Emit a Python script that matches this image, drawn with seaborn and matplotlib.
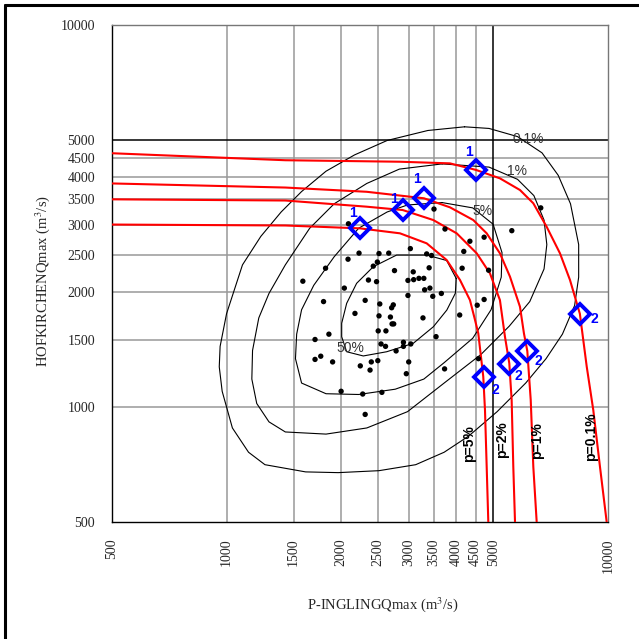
import matplotlib
matplotlib.use("Agg")
import matplotlib.pyplot as plt
from matplotlib.lines import Line2D
import pandas as pd
import seaborn as sns

# observed flood peaks (m3/s)
ingling_obs = [1585, 2087, 2225, 2082, 1818, 2036, 1796, 2171, 1855, 1706,
               1766, 1706, 1897, 1997, 2275, 2309, 2242, 2378, 2396, 2492,
               2554, 2309, 2355, 2425, 2473, 2485, 2510, 2662, 2756, 2522,
               2510, 2498, 2617, 2541, 2611, 2783, 2689, 2709, 2736, 2716,
               2743, 2909, 2909, 3041, 2989, 2989, 3033, 3086, 3094, 3194,
               3290, 3347, 3447, 3397, 3306, 3413, 3472, 3657, 3273, 3542,
               3003, 2960, 3729, 3498, 3738, 4344, 4187, 4146, 4085, 4734,
               4864, 4541, 4734, 4575, 5595, 6664]
hofk_obs = [2134, 3018, 2528, 2437, 2308, 2047, 1887, 1757, 1550, 1501,
            1357, 1331, 1311, 1098, 1080, 955, 1280, 1248, 1311, 1321,
            1091, 1901, 2149, 2337, 2128, 2396, 2522, 2528, 2275, 1860,
            1731, 1581, 1581, 1461, 1440, 1401, 1719, 1818, 1850, 1649,
            1649, 1476, 1440, 1461, 2144, 1958, 2598, 2258, 2154, 2171,
            2171, 2516, 2492, 2314, 2026, 2047, 1948, 1982, 1710, 1527,
            1311, 1221, 1257, 3298, 2924, 2716, 2554, 2308, 1740, 2783,
            2280, 1846, 1911, 1337, 2895, 3322]

# density isolines (closed)
c50_x = [4000, 3980, 3780, 3485, 3087, 2629, 2283, 2065, 2004, 2004, 2065, 2193, 2425, 2792, 3347, 3776, 4000]
c50_y = [2170, 1985, 1793, 1621, 1467, 1394, 1359, 1394, 1526, 1656, 1867, 2107, 2329, 2499, 2499, 2418, 2170]

c5_x = [3674, 4419, 4998, 5274, 5250, 4936, 4419, 3719, 3290, 2769, 2220, 1823, 1573, 1516, 1527, 1573, 1693, 1915, 2220, 2637, 2982, 3674]
c5_y = [3430, 3322, 3010, 2535, 2187, 1796, 1512, 1305, 1182, 1112, 1077, 1082, 1154, 1337, 1550, 1796, 2082, 2473, 2938, 3241, 3381, 3430]

c1_x = [3674, 4876, 5792, 6393, 6797, 6912, 6797, 6236, 5513, 4643, 3719, 2982, 2332, 1823, 1426, 1292, 1200, 1165, 1170, 1215, 1292, 1426, 1652, 1915, 2332, 2838, 3674]
c1_y = [4332, 4249, 3947, 3577, 3086, 2662, 2297, 1887, 1628, 1371, 1154, 971, 880, 848, 859, 913, 1020, 1182, 1405, 1710, 1982, 2355, 2938, 3405, 3850, 4198, 4332]

c01_x = [4207, 3371, 2637, 2166, 1823, 1573, 1391, 1230, 1101, 1000, 962, 957, 974, 1036, 1142, 1261, 1612, 1962, 2510, 3132, 3719, 4312, 5121, 6085, 6880, 7594, 8174, 8377, 8377, 7974, 7405, 6714, 5792, 4876, 4207]
c01_y = [5419, 5300, 4990, 4574, 4145, 3666, 3242, 2797, 2355, 1753, 1440, 1273, 1098, 880, 760, 705, 675, 672, 680, 705, 760, 838, 971, 1154, 1337, 1550, 1842, 2187, 2662, 3405, 4043, 4631, 5108, 5366, 5419]

# joint exceedance curves
p5_x = [500, 1426, 2237, 2849, 3347, 3776, 4093, 4346, 4481, 4570, 4710, 4759, 4808, 4855]
p5_y = [3004, 2987, 2936, 2849, 2682, 2425, 2149, 1904, 1689, 1558, 1199, 980, 696, 500]
p2_x = [500, 1426, 2330, 2896, 3483, 4012, 4527, 4904, 5208, 5369, 5511, 5590, 5646, 5704]
p2_y = [3498, 3473, 3346, 3279, 3087, 2849, 2525, 2237, 1904, 1526, 1300, 1042, 696, 500]
p1_x = [500, 1426, 2330, 3293, 3852, 4434, 4808, 5208, 5534, 5878, 6020, 6144, 6272, 6371, 6501]
p1_y = [3850, 3756, 3661, 3520, 3333, 3087, 2849, 2525, 2193, 1829, 1558, 1400, 1042, 696, 500]
p01_x = [500, 1426, 2849, 3852, 4508, 5208, 5878, 6371, 6904, 7483, 7950, 8438, 8795, 9150, 9527, 9918]
p01_y = [4620, 4429, 4389, 4346, 4177, 3970, 3700, 3415, 2965, 2525, 2149, 1753, 1274, 980, 696, 500]

# design events
design_x = [2242, 2895, 3290, 4508, 4734, 5513, 6146, 8438]
design_y = [2938, 3282, 3516, 4177, 1197, 1298, 1398, 1753]
design_lab = ["1", "1", "1", "1", "2", "2", "2", "2"]
design_off = [(-7, 15), (-9, 11), (-7, 19), (-7, 18), (11, -13), (9, -12), (11, -10), (14, -5)]

contour_lab = ["0.1%", "1%", "5%", "50%"]
contour_lab_x = [6191, 5764, 4702, 2113]
contour_lab_y = [5021, 4145, 3259, 1422]

curve_lab = ["p=5%", "p=2%", "p=1%", "p=0.1%"]
curve_lab_x = [4320, 5282, 6500, 9006]
curve_lab_y = [801, 818, 818, 835]

ticks = [500, 1000, 1500, 2000, 2500, 3000, 3500, 4000, 4500, 5000, 10000]

sns.set_style("white")
plt.rcParams["font.family"] = ["Liberation Serif", "DejaVu Serif"]
plt.rcParams["mathtext.fontset"] = "stix"

fig = plt.figure(figsize=(6.39, 6.39), dpi=100)
ax = fig.add_axes([0.1748, 0.1837, 0.7767, 0.7767])
ax.set_xscale("log")
ax.set_yscale("log")

# grid
for t in ticks[1:-1]:
    col = "black" if t == 5000 else "#999999"
    ax.axvline(t, color=col, lw=1.1, zorder=0)
    ax.axhline(t, color=col, lw=1.1, zorder=0)

for cx, cy in [(c50_x, c50_y), (c5_x, c5_y), (c1_x, c1_y), (c01_x, c01_y)]:
    sns.lineplot(x=cx, y=cy, sort=False, estimator=None, color="black", lw=0.8, ax=ax, zorder=2)

for cx, cy in [(p5_x, p5_y), (p2_x, p2_y), (p1_x, p1_y), (p01_x, p01_y)]:
    sns.lineplot(x=cx, y=cy, sort=False, estimator=None, color="#ff0000", lw=1.5, ax=ax, zorder=3)

obs = pd.DataFrame({"ingling": ingling_obs, "hofk": hofk_obs})
sns.scatterplot(data=obs, x="ingling", y="hofk", color="black", s=15, edgecolor="none", ax=ax, zorder=4)

ax.plot(design_x, design_y, "D", ms=10, mfc="none", mec="#0000ff", mew=2.8, zorder=5)
for x, y, lab, off in zip(design_x, design_y, design_lab, design_off):
    ax.annotate(lab, (x, y), xytext=off, textcoords="offset pixels", ha="center", va="center",
                color="#0000ff", fontsize=10, fontweight="bold", family="Liberation Sans", zorder=6)

for lab, x, y in zip(contour_lab, contour_lab_x, contour_lab_y):
    ax.text(x, y, lab, ha="center", va="center", fontsize=10, color="#333333",
            family="Liberation Sans", zorder=6)

for lab, x, y in zip(curve_lab, curve_lab_x, curve_lab_y):
    ax.text(x, y, lab, ha="center", va="center", rotation=90, fontsize=10, color="black",
            fontweight="bold", family="Liberation Sans", zorder=6)

ax.set_xlim(500, 10000)
ax.set_ylim(500, 10000)
ax.set_xticks(ticks)
ax.set_yticks(ticks)
ax.set_xticklabels([str(t) for t in ticks], rotation=90)
ax.set_yticklabels([str(t) for t in ticks])
ax.minorticks_off()
ax.tick_params(direction="out", length=10, width=1, color="black", labelsize=10, pad=2)

for s in ["left", "bottom"]:
    ax.spines[s].set_color("black")
    ax.spines[s].set_linewidth(1.0)
for s in ["top", "right"]:
    ax.spines[s].set_color("#777777")
    ax.spines[s].set_linewidth(1.0)

ax.set_xlabel("P-INGLINGQmax (m$^3$/s)", fontsize=10.5)
ax.set_ylabel("HOFKIRCHENQmax (m$^3$/s)", fontsize=10.5)
ax.xaxis.set_label_coords(0.547, -0.148)
ax.yaxis.set_label_coords(-0.12, 0.485)

# page frame (top and left edge)
fig.add_artist(Line2D([0.0086, 1.0], [0.9917, 0.9917], color="black", lw=2.2, transform=fig.transFigure))
fig.add_artist(Line2D([0.0086, 0.0086], [0.0, 0.9917], color="black", lw=2.2, transform=fig.transFigure))

fig.savefig("out.png", dpi=100)
